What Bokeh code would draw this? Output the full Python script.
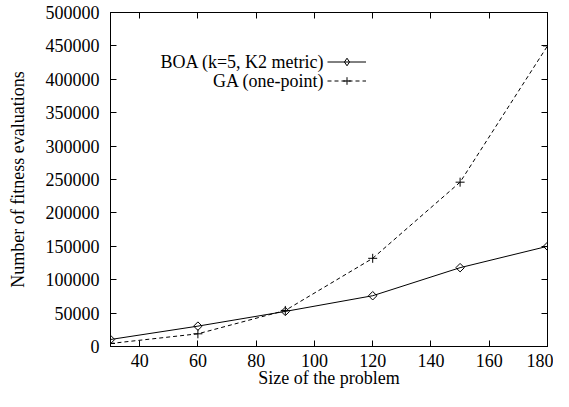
import numpy as np
from bokeh.plotting import figure
from bokeh.models import (FixedTicker, LinearAxis, Range1d, Legend, LegendItem,
                          Label, BasicTickFormatter)
from bokeh.embed import file_html
from bokeh.resources import INLINE

sizes = [30, 60, 90, 120, 150, 180]
boa_evals = [10500, 30500, 52500, 76000, 118000, 150000]
ga_evals = [4500, 19000, 54000, 132000, 246000, 450000]
series_names = ["BOA (k=5, K2 metric)", "GA (one-point)"]
x_ticks = [40, 60, 80, 100, 120, 140, 160, 180]
y_ticks = list(range(0, 500001, 50000))

FONT = "Liberation Serif"
FS = "18px"

p = figure(width=553, height=391, output_backend="svg", toolbar_location=None,
           x_range=Range1d(30, 180), y_range=Range1d(0, 500000),
           min_border_left=110, min_border_right=6, min_border_top=12,
           min_border_bottom=45,
           x_axis_label="Size of the problem",
           y_axis_label="Number of fitness evaluations")
p.grid.visible = False
p.outline_line_color = "black"
p.outline_line_width = 1
p.background_fill_color = "white"
p.border_fill_color = "white"

def style_axis(ax, ticks):
    ax.ticker = FixedTicker(ticks=ticks)
    ax.minor_tick_line_color = None
    ax.major_tick_in = 6
    ax.major_tick_out = 0
    ax.major_tick_line_color = "black"
    ax.axis_line_color = "black"
    ax.major_label_text_font = FONT
    ax.major_label_text_color = "black"
    ax.major_label_text_font_size = FS
    ax.axis_label_text_font = FONT
    ax.axis_label_text_font_style = "normal"
    ax.axis_label_text_font_size = FS
    ax.axis_label_text_color = "black"

def mirror_axis(ax, ticks):
    ax.ticker = FixedTicker(ticks=[], minor_ticks=ticks)
    ax.major_tick_line_color = None
    ax.minor_tick_line_color = "black"
    ax.minor_tick_in = 6
    ax.minor_tick_out = 0
    ax.axis_line_color = "black"
    ax.major_label_standoff = 0

xa = p.xaxis[0]
style_axis(xa, x_ticks)
xa.major_label_standoff = 7
xa.axis_label_standoff = -2

ya = p.yaxis[0]
style_axis(ya, y_ticks)
ya.formatter = BasicTickFormatter(use_scientific=False)
ya.major_label_standoff = 11
ya.axis_label_standoff = 15

top_ax = LinearAxis()
mirror_axis(top_ax, x_ticks)
p.add_layout(top_ax, "above")
right_ax = LinearAxis()
mirror_axis(right_ax, y_ticks)
p.add_layout(right_ax, "right")

boa_line = p.line(sizes, boa_evals, line_color="black", line_width=1)
boa_pts = p.scatter(sizes, boa_evals, marker="square", angle=np.pi / 4, size=6,
                    fill_color=None, line_color="black", line_width=1)
ga_line = p.line(sizes, ga_evals, line_color="black", line_width=1, line_dash="4 3")
ga_pts = p.scatter(sizes, ga_evals, marker="cross", size=9,
                   line_color="black", line_width=1)

# hidden renderer, only used to draw the diamond key in the legend
boa_key = p.scatter(sizes, boa_evals, marker="diamond", size=8,
                    fill_color=None, line_color="black", line_width=1,
                    visible=False)

legend = Legend(items=[LegendItem(label=" ", renderers=[boa_line, boa_key]),
                       LegendItem(label=" ", renderers=[ga_line, ga_pts])],
                location=(217, 256), glyph_width=39, glyph_height=19,
                label_height=19, label_width=0, label_standoff=0, spacing=0,
                padding=0, margin=0, background_fill_alpha=0,
                border_line_alpha=0, label_text_font_size="1px",
                click_policy="none")
p.add_layout(legend)

for i, name in enumerate(series_names):
    p.add_layout(Label(x=214, y=285 - 19 * i, x_units="screen", y_units="screen",
                       text=name, text_align="right", text_baseline="middle",
                       text_font=FONT, text_font_size=FS, text_color="black"))

open("out.html", "w").write(file_html(p, INLINE))
